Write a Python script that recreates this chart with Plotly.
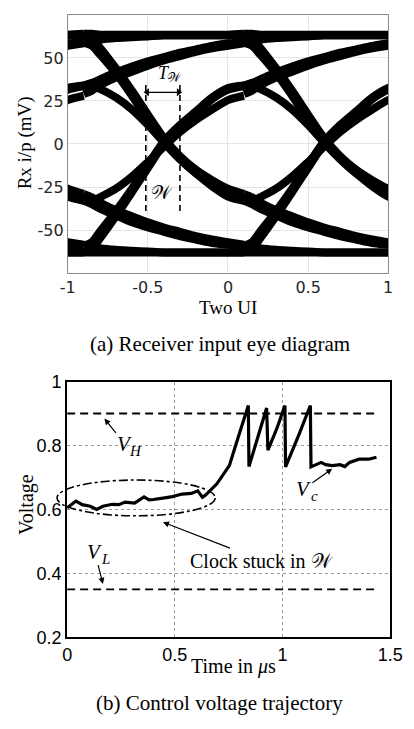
import plotly.graph_objects as go

W, H = 414, 729

# ================= (a) receiver input eye diagram =================
X_TICKS_A = [-1, -0.5, 0, 0.5, 1]
X_TICKTEXT_A = ["-1", "-0.5", "0", "0.5", "1"]
Y_TICKS_A = [-50, -25, 0, 25, 50]
Y_TICKTEXT_A = ["-50", "-25", "0", "25", "50"]

# one unit interval of every trajectory (mV), sampled at EYE_U after the knot
EYE_U = [0.0, 0.05, 0.1, 0.2, 0.3, 0.4, 0.5, 0.6, 0.7, 0.8, 0.9, 1.0]
EYE_KNOT_X = 0.1
EYE_UI_SHIFTS = [-2, -1, 0]

HOLD_HIGH   = [64, 64, 63.5, 63.5, 63.5, 63.5, 63.5, 63.5, 63.5, 63.5, 63.5, 64]
SETTLE_HIGH = [59, 59.5, 60.5, 61.5, 62, 62.5, 63, 63, 63, 63, 63, 63]
FALL_A      = [63, 61, 56, 44, 31, 17, 3.5, -7, -15, -21, -26, -29]
FALL_B      = [59, 57, 52, 41, 28, 14, 1, -9, -17, -23, -28, -30]
FALL_MID    = [34, 33.5, 32, 27, 20, 11, 1, -8.5, -17, -24.5, -30.5, -33]
RISE_MID_A  = [34, 35.5, 37.5, 41.5, 45, 48, 50.5, 53, 55, 57, 58.5, 59]
RISE_MID_B  = [29, 31, 34, 38.5, 42, 45.5, 48.5, 51, 53.5, 55.5, 57, 58.5]
HOLD_LOW    = [-63, -63, -63, -63, -63, -63, -63, -63, -63, -63, -63, -63]
SETTLE_LOW  = [-59, -59.5, -60.5, -61.5, -62, -62.5, -63, -63, -63, -63, -63, -63]
RISE_A      = [-63, -61, -55, -42, -28, -14, 0, 9.5, 17.5, 26, 31.5, 33.5]
RISE_B      = [-59, -57, -51, -39, -26, -12, 1.5, 11, 19, 27, 32.5, 34]
RISE_MID    = [-33, -33, -31, -26, -19, -10.5, -1.5, 7, 14, 20, 25.5, 28]
FALL_MID_A  = [-33, -35, -37.5, -41.5, -45.5, -48.5, -51, -53.5, -55.5, -57.5, -58.5, -59.5]
FALL_MID_B  = [-29, -31, -34, -38.5, -42, -45.5, -48.5, -51, -53.5, -55.5, -57, -58.5]

EYE_TRACES = [HOLD_HIGH, SETTLE_HIGH, FALL_A, FALL_B, FALL_MID, RISE_MID_A, RISE_MID_B,
              HOLD_LOW, SETTLE_LOW, RISE_A, RISE_B, RISE_MID, FALL_MID_A, FALL_MID_B]

# window W markers
W_EDGES_X = [-0.513, -0.30]
W_EDGES_Y = [-39, 35]
TW_ARROW_X = [-0.505, -0.308]
TW_ARROW_Y = 30

# ================= (b) control voltage trajectory =================
X_TICKS_B = [0, 0.5, 1, 1.5]
X_TICKTEXT_B = ["0", "0.5", "1", "1.5"]
Y_TICKS_B = [0.2, 0.4, 0.6, 0.8, 1.0]
Y_TICKTEXT_B = ["0.2", "0.4", "0.6", "0.8", "1"]

VC_T = [0.0, 0.02, 0.041, 0.07, 0.107, 0.137, 0.166, 0.21, 0.24, 0.269, 0.313, 0.357,
        0.38, 0.401, 0.43, 0.46, 0.489, 0.533, 0.577, 0.606, 0.628, 0.643, 0.695, 0.738,
        0.753, 0.782, 0.812, 0.841, 0.844, 0.885, 0.926, 0.932, 0.974, 1.011, 1.014,
        1.076, 1.129, 1.132, 1.157, 1.179, 1.2, 1.23, 1.267, 1.289, 1.311, 1.355, 1.399,
        1.436]
VC_V = [0.605, 0.615, 0.626, 0.615, 0.61, 0.600, 0.61, 0.616, 0.615, 0.623, 0.62, 0.639,
        0.63, 0.631, 0.633, 0.637, 0.64, 0.648, 0.65, 0.658, 0.638, 0.645, 0.68, 0.722,
        0.737, 0.80, 0.86, 0.925, 0.734, 0.823, 0.917, 0.785, 0.854, 0.925, 0.733,
        0.834, 0.925, 0.733, 0.74, 0.747, 0.74, 0.737, 0.74, 0.734, 0.747, 0.757, 0.757,
        0.763]
V_H = 0.9
V_L = 0.35
THRESH_T = [0.0, 1.445]

# ellipse around the stuck region (t0, t1, v0, v1)
STUCK_T = [-0.047, 0.687]
STUCK_V = [0.58, 0.692]

# ---------------- geometry ----------------
def px(x, y):
    return x / W, 1 - y / H

AX_A = dict(x=[63 / W, 400.5 / W], y=[1 - 270.5 / H, 1 - 5 / H])
AX_B = dict(x=[62.3 / W, 402.7 / W], y=[1 - 645 / H, 1 - 382 / H])
RANGE_AX = [-1, 1]
RANGE_AY = [-75, 75]
RANGE_BX = [0, 1.5]
RANGE_BY = [0.2, 1.0]

SERIF = "Liberation Serif, Times New Roman, serif"
SANS_A = "DejaVu Sans, sans-serif"
SANS_B = "Liberation Sans, Arial, sans-serif"
MATHW = "\U0001D4B2"

fig = go.Figure()

# eye diagram traces
for traj in EYE_TRACES:
    xs, ys = [], []
    for s in EYE_UI_SHIFTS:
        xs += [EYE_KNOT_X + s + u for u in EYE_U] + [None]
        ys += list(traj) + [None]
    fig.add_trace(go.Scatter(x=xs, y=ys, mode="lines", xaxis="x", yaxis="y",
                             line=dict(color="black", width=8, shape="spline", smoothing=0.8),
                             hoverinfo="skip", showlegend=False))

for wx in W_EDGES_X:
    fig.add_trace(go.Scatter(x=[wx, wx], y=W_EDGES_Y, mode="lines", xaxis="x", yaxis="y",
                             line=dict(color="black", width=1.6, dash="6px,4px"),
                             showlegend=False, hoverinfo="skip"))

# T_W double arrow
fig.add_trace(go.Scatter(x=TW_ARROW_X, y=[TW_ARROW_Y, TW_ARROW_Y], mode="lines+markers",
                         xaxis="x", yaxis="y",
                         line=dict(color="black", width=1.3),
                         marker=dict(symbol=["triangle-left", "triangle-right"], size=7,
                                     color="black"),
                         showlegend=False, hoverinfo="skip"))

# control voltage traces
for lvl in (V_H, V_L):
    fig.add_trace(go.Scatter(x=THRESH_T, y=[lvl, lvl], mode="lines", xaxis="x2", yaxis="y2",
                             line=dict(color="black", width=1.8, dash="8px,5px"),
                             showlegend=False, hoverinfo="skip"))
fig.add_trace(go.Scatter(x=VC_T, y=VC_V, mode="lines", xaxis="x2", yaxis="y2",
                         line=dict(color="black", width=3.2),
                         showlegend=False, hoverinfo="skip"))

def dom_x(t):
    return (t - RANGE_BX[0]) / (RANGE_BX[1] - RANGE_BX[0])

def dom_y(v):
    return (v - RANGE_BY[0]) / (RANGE_BY[1] - RANGE_BY[0])

fig.add_shape(type="circle", xref="x2 domain", yref="y2 domain",
              x0=dom_x(STUCK_T[0]), x1=dom_x(STUCK_T[1]),
              y0=dom_y(STUCK_V[0]), y1=dom_y(STUCK_V[1]),
              line=dict(color="black", width=1.6, dash="dashdot"))

ann = []
# axis titles & captions
for text, (x, y), rot, size in [
    ("Rx i/p (mV)", (18, 137), -90, 19),
    ("Two UI", (232, 306), 0, 19),
    ("(a) Receiver input eye diagram", (223, 343), 0, 21),
    ("Voltage", (19, 509), -90, 20),
    ("Time in <i>\u03bc</i>s", (238, 675), 0, 20),
    ("(b) Control voltage trajectory", (223, 713), 0, 21),
]:
    fx, fy = px(x, y)
    ann.append(dict(text=text, x=fx, y=fy, xref="paper", yref="paper", showarrow=False,
                    textangle=rot, xanchor="center", yanchor="middle",
                    font=dict(family=SERIF, size=size, color="black")))

# eye labels (main letter + separate subscript)
ann.append(dict(text="<i>T</i>", x=-0.40, y=41, xref="x", yref="y",
                showarrow=False, font=dict(family=SERIF, size=18, color="black")))
ann.append(dict(text=MATHW, x=-0.40, y=41, xref="x", yref="y", xshift=11, yshift=-4,
                showarrow=False, font=dict(family=SERIF, size=13, color="black")))
ann.append(dict(text=MATHW, x=-0.41, y=-28, xref="x", yref="y",
                showarrow=False, font=dict(family=SERIF, size=19, color="black")))

# control voltage labels: "V" with arrow, subscript as its own text
for sub, head, tail in [
    ("H", (0.173, 0.884), (0.268, 0.805)),
    ("L", (0.166, 0.367), (0.128, 0.468)),
    ("c", (1.23, 0.727), (1.097, 0.663)),
]:
    ann.append(dict(text="<i>V</i>", x=head[0], y=head[1], ax=tail[0], ay=tail[1],
                    xref="x2", yref="y2", axref="x2", ayref="y2", showarrow=True,
                    arrowhead=2, arrowsize=1, arrowwidth=1.2, arrowcolor="black",
                    font=dict(family=SERIF, size=21, color="black")))
    ann.append(dict(text="<i>" + sub + "</i>", x=tail[0], y=tail[1], xref="x2", yref="y2",
                    xshift=11, yshift=-7, showarrow=False,
                    font=dict(family=SERIF, size=15, color="black")))

ann.append(dict(text="Clock stuck in " + MATHW, x=0.445, y=0.56, ax=0.906, ay=0.44,
                xref="x2", yref="y2", axref="x2", ayref="y2", showarrow=True,
                arrowhead=2, arrowsize=1, arrowwidth=1.2, arrowcolor="black",
                font=dict(family=SERIF, size=20, color="black")))

fig.update_layout(
    width=W, height=H, margin=dict(l=0, r=0, t=0, b=0),
    paper_bgcolor="white", plot_bgcolor="white", showlegend=False,
    annotations=ann,
    xaxis=dict(domain=AX_A["x"], range=RANGE_AX, tickvals=X_TICKS_A, ticktext=X_TICKTEXT_A,
               showgrid=True, gridcolor="#e6e6e6", gridwidth=1, zeroline=False,
               showline=True, mirror=True, linecolor="#8a8a8a", linewidth=1, ticks="",
               tickfont=dict(family=SANS_A, size=16, color="#262626"), anchor="y"),
    yaxis=dict(domain=AX_A["y"], range=RANGE_AY, tickvals=Y_TICKS_A, ticktext=Y_TICKTEXT_A,
               showgrid=True, gridcolor="#e6e6e6", gridwidth=1, zeroline=False,
               showline=True, mirror=True, linecolor="#8a8a8a", linewidth=1, ticks="",
               tickfont=dict(family=SANS_A, size=16, color="#262626"), anchor="x"),
    xaxis2=dict(domain=AX_B["x"], range=RANGE_BX, tickvals=X_TICKS_B, ticktext=X_TICKTEXT_B,
                showgrid=True, gridcolor="#9a9a9a", griddash="dot", gridwidth=1, zeroline=False,
                showline=True, mirror=True, linecolor="black", linewidth=2, ticks="",
                tickfont=dict(family=SANS_B, size=18, color="black"), anchor="y2"),
    yaxis2=dict(domain=AX_B["y"], range=RANGE_BY, tickvals=Y_TICKS_B, ticktext=Y_TICKTEXT_B,
                showgrid=True, gridcolor="#9a9a9a", griddash="dot", gridwidth=1, zeroline=False,
                showline=True, mirror=True, linecolor="black", linewidth=2, ticks="",
                tickfont=dict(family=SANS_B, size=18, color="black"), anchor="x2"),
)

fig.write_html("out.html")
